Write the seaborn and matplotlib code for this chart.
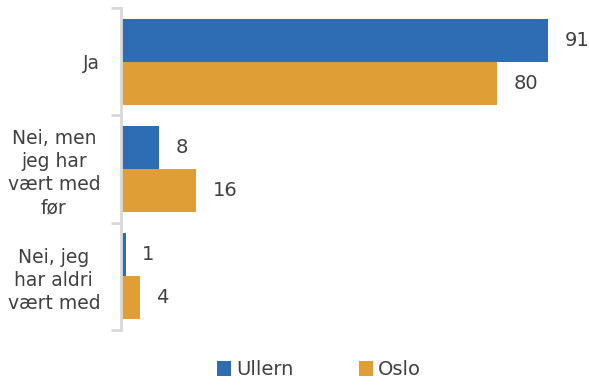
import matplotlib
matplotlib.use("Agg")
import matplotlib.pyplot as plt
import seaborn as sns
import pandas as pd
from matplotlib.patches import Patch

categories = ["Ja", "Nei, men\njeg har\nvært med\nfør", "Nei, jeg\nhar aldri\nvært med"]
series = ["Ullern", "Oslo"]
ullern = [91, 8, 1]
oslo = [80, 16, 4]
colors = ["#2E6DB4", "#E09E36"]

df = pd.DataFrame({
    "cat": categories * 2,
    "serie": [series[0]] * 3 + [series[1]] * 3,
    "val": ullern + oslo,
})

sns.set_style("white")
plt.rcParams["font.family"] = ["DejaVu Sans"]
txt = "#404040"

fig = plt.figure(figsize=(5.89, 3.87), dpi=100)
ax = fig.add_axes([121/589, 1-330/387, 460/589, 322/387])
sns.barplot(data=df, y="cat", x="val", hue="serie", palette=colors, orient="h",
            width=0.8, ax=ax, legend=False, saturation=1, linewidth=0)
ax.set_xlim(0, 98)
ax.set_ylim(2.5, -0.5)
ax.set_xlabel("")
ax.set_ylabel("")
ax.set_xticks([])
for s in ["top", "right", "bottom"]:
    ax.spines[s].set_visible(False)
ax.spines["left"].set_color("#D9D9D9")
ax.spines["left"].set_linewidth(2)
ax.tick_params(axis="y", which="major", left=False, length=0, pad=15, labelsize=13.5, labelcolor=txt)
for lab in ax.get_yticklabels():
    lab.set_multialignment("center")
    lab.set_linespacing(1.27)
ax.set_yticks([-0.5, 0.5, 1.5, 2.5], minor=True)
ax.tick_params(axis="y", which="minor", left=True, length=7, width=2, color="#D9D9D9")

for cont in ax.containers:
    ax.bar_label(cont, padding=12, fontsize=14, color=txt)

handles = [Patch(facecolor=c, edgecolor="none") for c in colors]
fig.legend(handles, series, loc="lower center", bbox_to_anchor=(0.5416, -0.025), ncol=2,
           frameon=False, fontsize=14, labelcolor=txt, handlelength=0.75, handleheight=0.75,
           handletextpad=0.25, columnspacing=3.35)
fig.savefig("out.png", dpi=100)
